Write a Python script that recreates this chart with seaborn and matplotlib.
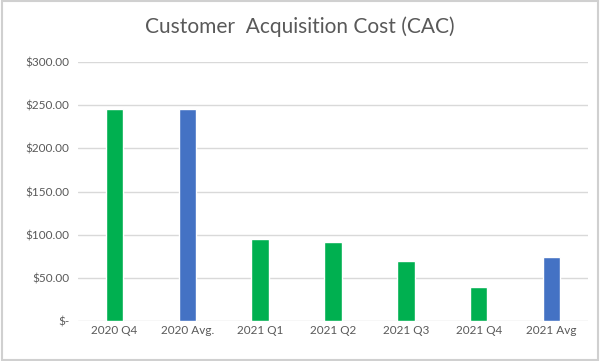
import matplotlib
matplotlib.use('Agg')
import matplotlib.pyplot as plt
import seaborn as sns
import pandas as pd

periods = ['2020 Q4', '2020 Avg.', '2021 Q1', '2021 Q2', '2021 Q3', '2021 Q4', '2021 Avg']
cac = [246, 246, 95, 92, 70, 39, 74]
bar_colors = ['#00B050', '#4472C4', '#00B050', '#00B050', '#00B050', '#00B050', '#4472C4']
yticks = [0, 50, 100, 150, 200, 250, 300]
ytick_labels = ['$-', '$50.00', '$100.00', '$150.00', '$200.00', '$250.00', '$300.00']

sns.set_style('white')
plt.rcParams['font.family'] = ['Lato', 'DejaVu Sans']

df = pd.DataFrame({'period': periods, 'cac': cac})

fig = plt.figure(figsize=(6, 3.61), dpi=100)
ax = fig.add_axes([0.13, 0.111, 0.85, 0.717])
sns.barplot(data=df, x='period', y='cac', hue='period', palette=bar_colors,
            width=0.24, legend=False, ax=ax, saturation=1)

ax.set_ylim(0, 300)
ax.set_yticks(yticks)
ax.set_yticklabels(ytick_labels)
ax.yaxis.grid(True, color='#D9D9D9', linewidth=1)
ax.set_axisbelow(True)
for s in ax.spines.values():
    s.set_visible(False)
ax.tick_params(axis='both', length=0, labelsize=8.5, colors='#595959')
ax.tick_params(axis='y', pad=6)
ax.tick_params(axis='x', pad=3)
ax.set_xlabel('')
ax.set_ylabel('')
ax.set_xlim(-0.5, 6.5)

fig.suptitle('Customer  Acquisition Cost (CAC)', y=0.955, fontsize=15, color='#595959')

# light frame around the chart area
fig.patches.append(plt.Rectangle((0.003, 0.004), 0.994, 0.992, transform=fig.transFigure,
                                 fill=False, edgecolor='#D0D0D0', linewidth=1.5))

fig.savefig('out.png', dpi=100)
